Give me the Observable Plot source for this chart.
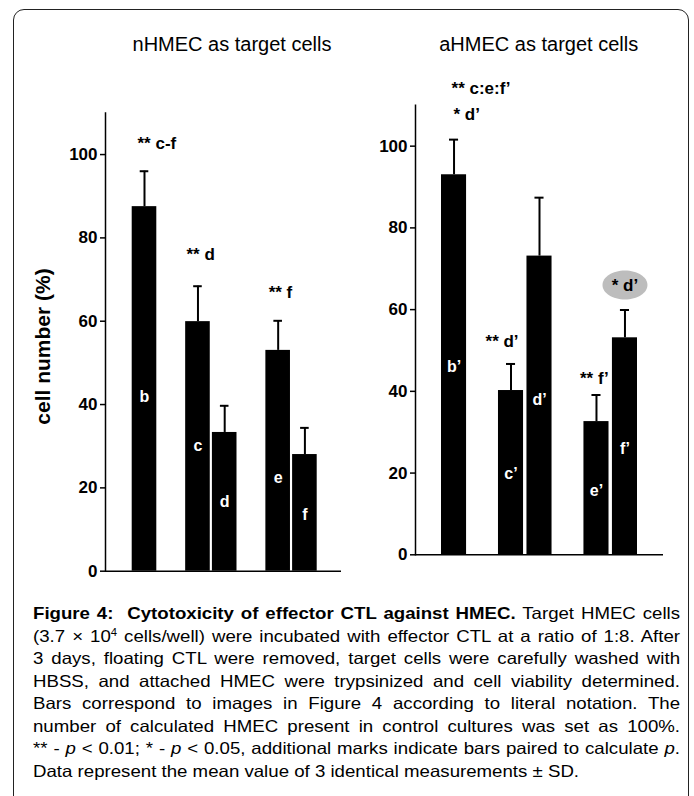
<!DOCTYPE html>
<html>
<head>
<meta charset="utf-8">
<script src="https://cdn.jsdelivr.net/npm/d3@7"></script>
<script src="https://cdn.jsdelivr.net/npm/@observablehq/plot@0.6"></script>
<style>
  html, body { margin: 0; padding: 0; background: #fff; }
  #root { position: relative; width: 694px; height: 796px; overflow: hidden; background: #fff;
          font-family: "Liberation Sans", Arial, Helvetica, sans-serif; color: #000; }
  .frame { position: absolute; left: 12.5px; top: 9px; width: 676.5px; height: 810px;
           border: 1.5px solid #222; border-radius: 11px; box-sizing: border-box; }
  .title { position: absolute; top: 33.8px; width: 300px; text-align: center; font-size: 20px; line-height: 20px; white-space: nowrap; }
  .ylab { position: absolute; width: 200px; height: 21px; line-height: 21px; font-size: 21px; font-weight: bold;
          text-align: center; white-space: nowrap; transform: rotate(-90deg); }
  .plot { position: absolute; top: 0; }
  .cap { position: absolute; left: 33px; top: 602px; width: 572.6px; font-size: 16.5px; line-height: 22.5px;
         transform: scaleX(1.13); transform-origin: 0 0; }
  .cap .l { text-align: justify; text-align-last: justify; }
  .cap .last { text-align: left; }
  .cap sup { font-size: 10px; line-height: 0; vertical-align: 6px; }
</style>
</head>
<body>
<div id="root">
  <div class="frame"></div>
  <div class="title" style="left:82px">nHMEC as target cells</div>
  <div class="title" style="left:388.7px">aHMEC as target cells</div>
  <div class="ylab" style="left:-57.6px; top:336px">cell number (%)</div>
  <div id="left" class="plot" style="left:0px; width:350px"></div>
  <div id="right" class="plot" style="left:340px; width:354px"></div>
  <div class="cap">
    <div class="l"><b>Figure 4:&nbsp; Cytotoxicity of effector CTL against HMEC.</b> Target HMEC cells</div>
    <div class="l">(3.7 × 10<sup>4</sup> cells/well) were incubated with effector CTL at a ratio of 1:8. After</div>
    <div class="l">3 days, floating CTL were removed, target cells were carefully washed with</div>
    <div class="l">HBSS, and attached HMEC were trypsinized and cell viability determined.</div>
    <div class="l">Bars correspond to images in Figure 4 according to literal notation. The</div>
    <div class="l">number of calculated HMEC present in control cultures was set as 100%.</div>
    <div class="l">** - <i>p</i> &lt; 0.01; * - <i>p</i> &lt; 0.05, additional marks indicate bars paired to calculate <i>p</i>.</div>
    <div class="last">Data represent the mean value of 3 identical measurements ± SD.</div>
  </div>
</div>
<script>
// ---------- data ----------
const yTicks = [0, 20, 40, 60, 80, 100];

// nHMEC as target cells
const leftCats = ["b", "c", "d", "e", "f"];
const leftMeans = [87.5, 59.9, 33.3, 53.0, 28.0];
const leftSD = [8.5, 8.5, 6.4, 7.1, 6.4];
const leftLabelAt = [41.8, 30.2, 16.7, 22.3, 13.6];
const leftNotes = [
  {bar: "b", y: 102.7, text: "** c-f"},
  {bar: "c", y: 76.0, text: "** d"},
  {bar: "e", y: 66.9, text: "** f"}
];

// aHMEC as target cells
const rightCats = ["b’", "c’", "d’", "e’", "f’"];
const rightMeans = [93.0, 40.2, 73.1, 32.6, 53.1];
const rightSD = [8.6, 6.5, 14.3, 6.5, 6.8];
const rightLabelAt = [45.9, 19.9, 37.8, 15.7, 25.8];
const rightNotes = [
  {bar: "b’", y: 114.0, text: "** c:e:f’"},
  {bar: "b’", y: 107.8, text: "* d’"},
  {bar: "c’", y: 52.1, text: "** d’"},
  {bar: "e’", y: 43.1, text: "** f’"}
];
const rightHighlight = [{bar: "f’", y: 66, text: "* d’"}];

// ---------- drawing ----------
const font = "'Liberation Sans', Arial, Helvetica, sans-serif";

// groups: [b] [c d] [e f] -> blank slots between groups
function slots(cats) { return [cats[0], "_g1", cats[1], cats[2], "_g2", cats[3], cats[4]]; }

const ellipseSymbol = {
  draw(ctx, size) {
    const r = Math.sqrt(size / Math.PI), rx = r * 1.55, ry = r, k = 0.5523;
    ctx.moveTo(rx, 0);
    ctx.bezierCurveTo(rx, ry * k, rx * k, ry, 0, ry);
    ctx.bezierCurveTo(-rx * k, ry, -rx, ry * k, -rx, 0);
    ctx.bezierCurveTo(-rx, -ry * k, -rx * k, -ry, 0, -ry);
    ctx.bezierCurveTo(rx * k, -ry, rx, -ry * k, rx, 0);
    ctx.closePath();
  }
};

function panel({cats, means, sds, labelAt, notes, noteShift, highlight, layout}) {
  const data = cats.map((c, i) => ({cat: c, mean: means[i], sd: sds[i], labelAt: labelAt[i]}));
  const marks = [
    Plot.barY(data, {x: "cat", y: "mean", fill: "#000"}),
    Plot.ruleX(data, {x: "cat", y1: "mean", y2: d => d.mean + d.sd, stroke: "#000", strokeWidth: 2}),
    Plot.tickY(data, {x: "cat", y: d => d.mean + d.sd, stroke: "#000", strokeWidth: 2, insetLeft: 8, insetRight: 8}),
    Plot.text(data, {x: "cat", y: "labelAt", text: "cat", fill: "#fff", fontWeight: "bold", fontSize: 16})
  ];
  if (highlight) {
    marks.push(Plot.dot(highlight, {x: "bar", y: "y", r: 14.5, symbol: ellipseSymbol, fill: "#bdbdbd", stroke: null}));
    marks.push(Plot.text(highlight, {x: "bar", y: "y", text: "text", fontWeight: "bold", fontSize: 17, fill: "#000"}));
  }
  notes.forEach((n, i) => {
    marks.push(Plot.text([n], {x: "bar", y: "y", text: "text", textAnchor: "start", dx: noteShift[i],
      fontWeight: "bold", fontSize: 17, fill: "#000"}));
  });
  marks.push(
    Plot.axisY({ticks: yTicks, tickSize: 5, tickPadding: 3, fontSize: 17, fontWeight: "bold", strokeWidth: 1.5, label: null}),
    Plot.frame({anchor: "left", stroke: "#000", strokeWidth: 1.5}),
    Plot.ruleY([0], {stroke: "#000", strokeWidth: 1.5})
  );
  return Plot.plot({
    width: layout.width, height: 600,
    marginLeft: layout.marginLeft, marginRight: layout.marginRight,
    marginTop: layout.marginTop, marginBottom: layout.marginBottom,
    x: {domain: slots(cats), range: layout.xRange, paddingInner: layout.padInner, paddingOuter: 0, round: false, axis: null},
    y: {domain: [0, 110]},
    style: {fontFamily: font, background: "transparent", overflow: "visible", color: "#000"},
    marks
  });
}

document.getElementById("left").append(panel({
  cats: leftCats, means: leftMeans, sds: leftSD, labelAt: leftLabelAt,
  notes: leftNotes, noteShift: [-7, -11.5, -9.5],
  layout: {width: 350, marginLeft: 105, marginRight: 9, marginTop: 112.4, marginBottom: 29.3, xRange: [131.7, 316.7], padInner: 0.08}
}));

document.getElementById("right").append(panel({
  cats: rightCats, means: rightMeans, sds: rightSD, labelAt: rightLabelAt,
  notes: rightNotes, noteShift: [-2.5, -0.5, -25.5, -16.5], highlight: rightHighlight,
  layout: {width: 354, marginLeft: 75, marginRight: 31, marginTop: 104.8, marginBottom: 45.7, xRange: [101, 297], padInner: 0.12}
}));
</script>
</body>
</html>
